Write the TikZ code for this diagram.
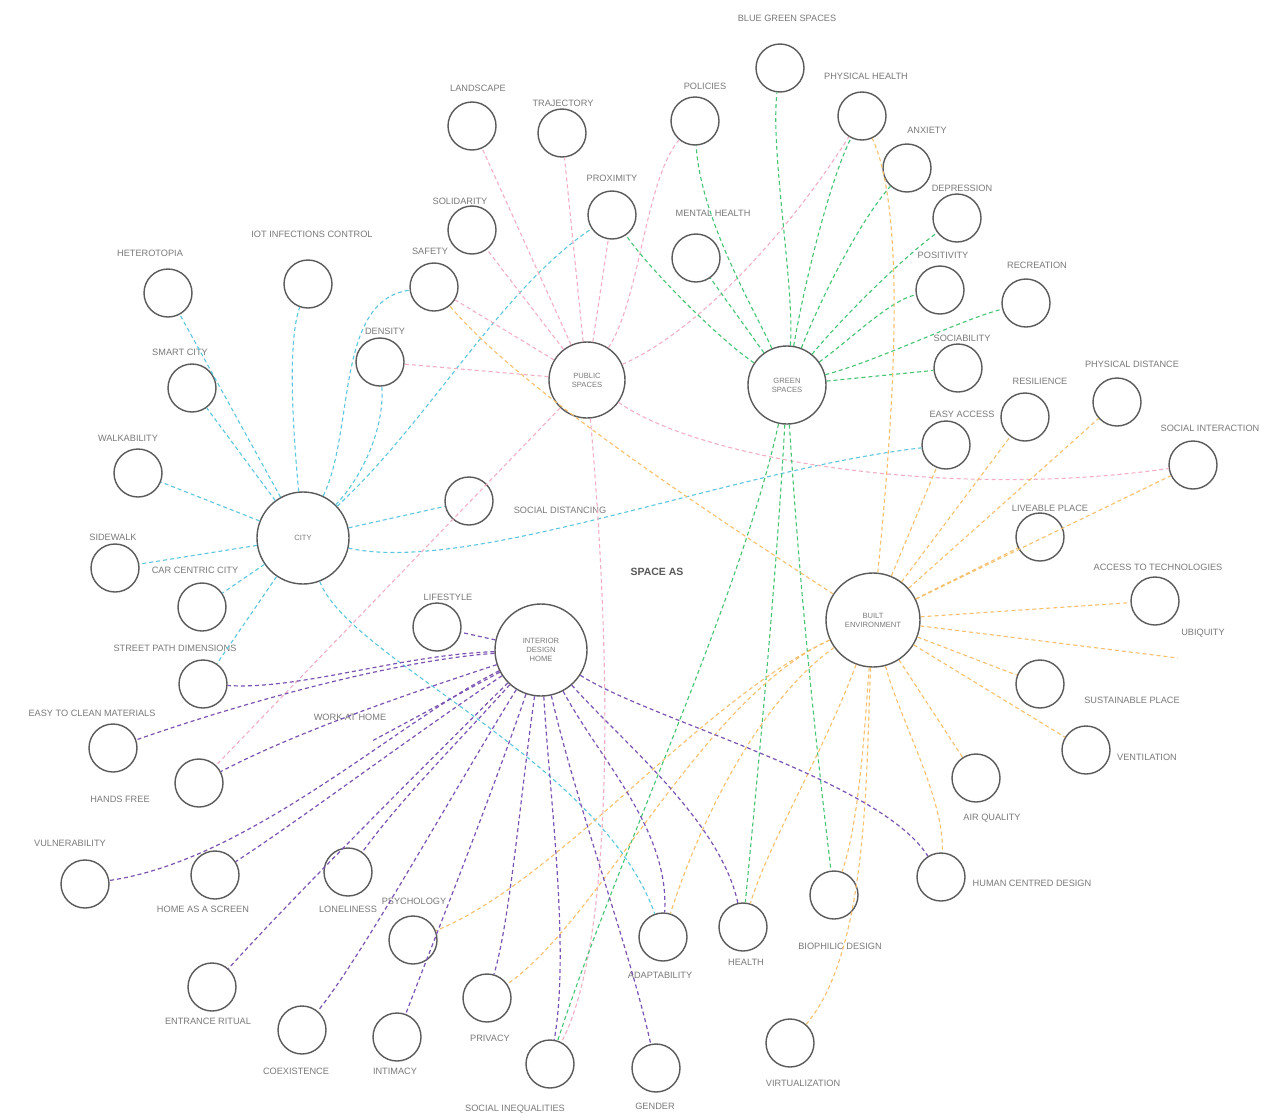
\documentclass[tikz,border=0pt]{standalone}
\usepackage{fontspec}
\setmainfont{Liberation Sans}
\definecolor{ringc}{HTML}{5A5A5A}
\definecolor{labc}{HTML}{7A7A7A}
\definecolor{cityc}{HTML}{5CC6DE}
\definecolor{pubc}{HTML}{F2AFC2}
\definecolor{grnc}{HTML}{45C472}
\definecolor{bec}{HTML}{F6C06C}
\definecolor{idhc}{HTML}{7B54B3}
\newcommand{\lblfont}{\fontsize{9.2}{10}\selectfont}
\newcommand{\hubfont}{\fontsize{7.6}{9}\selectfont}
\tikzset{
  leaf/.style={circle, draw=ringc, line width=1.4pt, minimum size=48pt, inner sep=0pt},
  hub/.style={circle, draw=ringc, line width=1.4pt, inner sep=0pt, align=center,
              font=\hubfont, text=labc},
  lbl/.style={text=labc, font=\lblfont, inner sep=0pt},
  link/.style={dashed, dash pattern=on 4pt off 3pt, line width=1.1pt},
  cityl/.style={link, draw=cityc},
  publ/.style={link, draw=pubc},
  grnl/.style={link, draw=grnc},
  bel/.style={link, draw=bec},
  idhl/.style={link, draw=idhc, line width=1.2pt},
}
\begin{document}
\begin{tikzpicture}[x=1pt, y=-1pt]
\useasboundingbox[fill=white] (0,0) rectangle (1274,1119);

% ---------- hubs ----------
\node[hub, minimum size=76pt] (ps) at (587,380) {PUBLIC\\SPACES};
\node[hub, minimum size=78pt] (gs) at (787,385) {GREEN\\SPACES};
\node[hub, minimum size=92pt] (city) at (303,538) {CITY};
\node[hub, minimum size=92pt] (idh) at (541,650) {INTERIOR\\DESIGN\\HOME};
\node[hub, minimum size=94pt] (be) at (873,620) {BUILT\\ENVIRONMENT};
\node[text=ringc, font=\fontsize{10.5}{12}\selectfont\bfseries] (title) at (657,572) {SPACE AS};

% ---------- leaves ----------
\node[leaf] (bgs) at (780,68) {};
\node[leaf] (phh) at (862,116) {};
\node[leaf] (anx) at (907,168) {};
\node[leaf] (dep) at (957,218) {};
\node[leaf] (pos) at (940,290) {};
\node[leaf] (rec) at (1026,303) {};
\node[leaf] (soc) at (958,368) {};
\node[leaf] (lan) at (472,126) {};
\node[leaf] (tra) at (562,133) {};
\node[leaf] (pol) at (695,121) {};
\node[leaf] (pro) at (612,215) {};
\node[leaf] (mh)  at (696,258) {};
\node[leaf] (sol) at (472,230) {};
\node[leaf] (saf) at (434,287) {};
\node[leaf] (den) at (380,362) {};
\node[leaf] (iot) at (308,284) {};
\node[leaf] (het) at (168,293) {};
\node[leaf] (sma) at (192,388) {};
\node[leaf] (wal) at (138,473) {};
\node[leaf] (sid) at (115,568) {};
\node[leaf] (car) at (202,607) {};
\node[leaf] (spd) at (203,684) {};
\node[leaf] (etc) at (113,748) {};
\node[leaf] (hf)  at (199,783) {};
\node[leaf] (vul) at (85,884) {};
\node[leaf] (has) at (215,875) {};
\node[leaf] (lon) at (348,872) {};
\node[leaf] (psy) at (413,940) {};
\node[leaf] (ent) at (212,987) {};
\node[leaf] (coe) at (302,1030) {};
\node[leaf] (int) at (397,1037) {};
\node[leaf] (pri) at (487,998) {};
\node[leaf] (sin) at (550,1064) {};
\node[leaf] (gen) at (656,1068) {};
\node[leaf] (ada) at (663,937) {};
\node[leaf] (hea) at (743,927) {};
\node[leaf] (bio) at (834,895) {};
\node[leaf] (hcd) at (941,877) {};
\node[leaf] (aq)  at (976,778) {};
\node[leaf] (ven) at (1086,750) {};
\node[leaf] (sus) at (1040,684) {};
\node[leaf] (att) at (1155,601) {};
\node[leaf] (liv) at (1040,537) {};
\node[leaf] (si)  at (1193,465) {};
\node[leaf] (pd)  at (1117,402) {};
\node[leaf] (res) at (1025,417) {};
\node[leaf] (ea)  at (946,445) {};
\node[leaf] (sd)  at (469,501) {};
\node[leaf] (lif) at (437,627) {};
\node[leaf] (vir) at (790,1043) {};
\coordinate (ubi) at (1178,658);
\coordinate (wah) at (372,741);

% ---------- labels ----------
\node[lbl] at (787,18) {BLUE GREEN SPACES};
\node[lbl] at (866,76) {PHYSICAL HEALTH};
\node[lbl] at (927,130) {ANXIETY};
\node[lbl] at (962,188) {DEPRESSION};
\node[lbl] at (943,255) {POSITIVITY};
\node[lbl] at (1037,265) {RECREATION};
\node[lbl] at (962,338) {SOCIABILITY};
\node[lbl] at (478,88) {LANDSCAPE};
\node[lbl] at (563,103) {TRAJECTORY};
\node[lbl] at (705,86) {POLICIES};
\node[lbl] at (612,178) {PROXIMITY};
\node[lbl] at (713,213) {MENTAL HEALTH};
\node[lbl] at (460,201) {SOLIDARITY};
\node[lbl] at (430,251) {SAFETY};
\node[lbl] at (385,331) {DENSITY};
\node[lbl] at (312,234) {IOT INFECTIONS CONTROL};
\node[lbl] at (150,253) {HETEROTOPIA};
\node[lbl] at (180,352) {SMART CITY};
\node[lbl] at (128,438) {WALKABILITY};
\node[lbl] at (113,537) {SIDEWALK};
\node[lbl] at (195,570) {CAR CENTRIC CITY};
\node[lbl] at (175,648) {STREET PATH DIMENSIONS};
\node[lbl] at (92,713) {EASY TO CLEAN MATERIALS};
\node[lbl] at (120,799) {HANDS FREE};
\node[lbl] at (70,843) {VULNERABILITY};
\node[lbl] at (203,909) {HOME AS A SCREEN};
\node[lbl] at (348,909) {LONELINESS};
\node[lbl] at (414,901) {PSYCHOLOGY};
\node[lbl] at (208,1021) {ENTRANCE RITUAL};
\node[lbl] at (296,1071) {COEXISTENCE};
\node[lbl] at (395,1071) {INTIMACY};
\node[lbl] at (490,1038) {PRIVACY};
\node[lbl] at (515,1109) {SOCIAL INEQUALITIES};
\node[lbl] at (655,1106) {GENDER};
\node[lbl] at (660,975) {ADAPTABILITY};
\node[lbl] at (746,962) {HEALTH};
\node[lbl] at (840,946) {BIOPHILIC DESIGN};
\node[lbl] at (1032,883) {HUMAN CENTRED DESIGN};
\node[lbl] at (992,818) {AIR QUALITY};
\node[lbl] at (1147,757) {VENTILATION};
\node[lbl] at (1132,700) {SUSTAINABLE PLACE};
\node[lbl] at (1203,633) {UBIQUITY};
\node[lbl] at (1158,567) {ACCESS TO TECHNOLOGIES};
\node[lbl] at (1050,508) {LIVEABLE PLACE};
\node[lbl] at (1210,428) {SOCIAL INTERACTION};
\node[lbl] at (1132,364) {PHYSICAL DISTANCE};
\node[lbl] at (1040,381) {RESILIENCE};
\node[lbl] at (962,414) {EASY ACCESS};
\node[lbl] at (560,510) {SOCIAL DISTANCING};
\node[lbl] at (448,597) {LIFESTYLE};
\node[lbl] at (350,717) {WORK AT HOME};
\node[lbl] at (803,1083) {VIRTUALIZATION};

% ---------- city links ----------
\draw[cityl] (city) -- (het);
\draw[cityl] (city) .. controls (292,420) and (288,340) .. (iot);
\draw[cityl] (city) .. controls (355,430) and (335,300) .. (saf);
\draw[cityl] (city) .. controls (360,480) and (385,430) .. (den);
\draw[cityl] (city) -- (sma);
\draw[cityl] (city) -- (wal);
\draw[cityl] (city) -- (sid);
\draw[cityl] (city) -- (car);
\draw[cityl] (city) -- (spd);
\draw[cityl] (city) -- (sd);
\draw[cityl] (city) .. controls (470,575) and (730,470) .. (ea);
\draw[cityl] (city) .. controls (430,420) and (500,290) .. (pro);
\draw[cityl] (city) .. controls (350,660) and (600,760) .. (ada);

% ---------- public spaces links ----------
\draw[publ] (ps) -- (lan);
\draw[publ] (ps) -- (tra);
\draw[publ] (ps) .. controls (640,300) and (645,180) .. (pol);
\draw[publ] (ps) -- (pro);
\draw[publ] (ps) -- (sol);
\draw[publ] (ps) -- (saf);
\draw[publ] (ps) -- (den);
\draw[publ] (ps) .. controls (700,330) and (790,230) .. (phh);
\draw[publ] (ps) .. controls (700,460) and (950,500) .. (si);
\draw[publ] (ps) -- (hf);
\draw[publ] (ps) .. controls (615,700) and (610,950) .. (sin);

% ---------- green spaces links ----------
\draw[grnl] (gs) .. controls (795,290) and (770,150) .. (bgs);
\draw[grnl] (gs) .. controls (805,280) and (830,180) .. (phh);
\draw[grnl] (gs) .. controls (820,300) and (860,220) .. (anx);
\draw[grnl] (gs) .. controls (840,320) and (900,260) .. (dep);
\draw[grnl] (gs) .. controls (850,340) and (890,300) .. (pos);
\draw[grnl] (gs) .. controls (880,360) and (960,320) .. (rec);
\draw[grnl] (gs) -- (soc);
\draw[grnl] (gs) .. controls (760,320) and (700,220) .. (pol);
\draw[grnl] (gs) -- (mh);
\draw[grnl] (gs) .. controls (720,340) and (650,270) .. (pro);
\draw[grnl] (gs) .. controls (775,600) and (755,800) .. (hea);
\draw[grnl] (gs) .. controls (800,600) and (820,780) .. (bio);
\draw[grnl] (gs) .. controls (740,600) and (620,850) .. (sin);

% ---------- built environment links ----------
\draw[bel] (be) .. controls (720,520) and (520,390) .. (saf);
\draw[bel] (be) .. controls (890,450) and (910,220) .. (phh);
\draw[bel] (be) -- (res);
\draw[bel] (be) -- (pd);
\draw[bel] (be) -- (si);
\draw[bel] (be) -- (ea);
\draw[bel] (be) -- (liv);
\draw[bel] (be) -- (att);
\draw[bel] (be) -- (ubi);
\draw[bel] (be) -- (sus);
\draw[bel] (be) -- (ven);
\draw[bel] (be) -- (aq);
\draw[bel] (be) .. controls (900,720) and (945,800) .. (hcd);
\draw[bel] (be) .. controls (865,720) and (860,820) .. (bio);
\draw[bel] (be) .. controls (866,760) and (870,950) .. (vir);
\draw[bel] (be) .. controls (820,760) and (770,840) .. (hea);
\draw[bel] (be) .. controls (760,700) and (700,820) .. (ada);
\draw[bel] (be) .. controls (700,700) and (600,920) .. (pri);
\draw[bel] (be) .. controls (700,700) and (560,880) .. (psy);

% ---------- interior design links ----------
\draw[idhl] (idh) -- (lif);
\draw[idhl] (idh) .. controls (400,660) and (250,700) .. (etc);
\draw[idhl] (idh) .. controls (400,655) and (300,690) .. (spd);
\draw[idhl] (idh) .. controls (420,690) and (300,730) .. (hf);
\draw[idhl] (idh) -- (wah);
\draw[idhl] (idh) .. controls (400,720) and (250,860) .. (vul);
\draw[idhl] (idh) .. controls (420,730) and (300,820) .. (has);
\draw[idhl] (idh) .. controls (460,740) and (400,800) .. (lon);
\draw[idhl] (idh) .. controls (430,760) and (290,900) .. (ent);
\draw[idhl] (idh) .. controls (460,780) and (360,960) .. (coe);
\draw[idhl] (idh) .. controls (490,800) and (430,950) .. (int);
\draw[idhl] (idh) .. controls (520,800) and (510,920) .. (pri);
\draw[idhl] (idh) .. controls (550,800) and (570,950) .. (sin);
\draw[idhl] (idh) .. controls (575,800) and (630,950) .. (gen);
\draw[idhl] (idh) .. controls (600,760) and (670,830) .. (ada);
\draw[idhl] (idh) .. controls (620,740) and (720,820) .. (hea);
\draw[idhl] (idh) .. controls (650,720) and (880,780) .. (hcd);
\end{tikzpicture}
\end{document}
